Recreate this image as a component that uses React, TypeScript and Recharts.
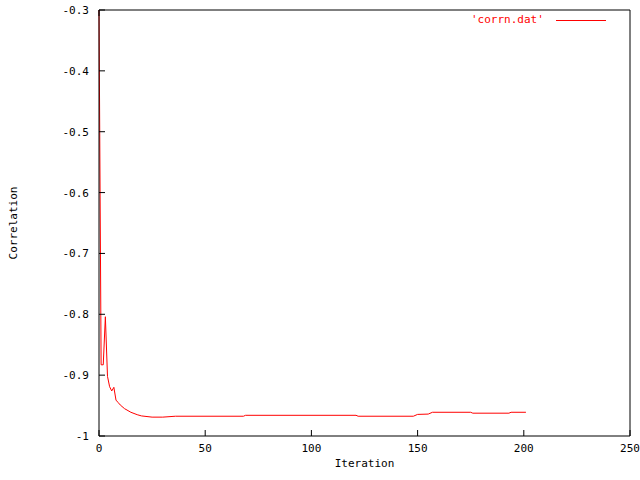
import { LineChart, Line, XAxis, YAxis } from "recharts";

const iterations = [0, 1, 2, 3, 4, 5, 6, 7, 8, 9, 10, 12, 15, 18, 20, 25, 30, 36, 68, 69, 121, 122, 148, 150, 155, 157, 175, 176, 193, 194, 201];
const correlation = [
  -0.3, -0.883, -0.883, -0.804, -0.902, -0.919, -0.926, -0.92, -0.941, -0.945, -0.949, -0.955, -0.961, -0.965,
  -0.967, -0.969, -0.969, -0.9675, -0.9675, -0.966, -0.966, -0.9675, -0.9675, -0.9645, -0.964, -0.961, -0.961,
  -0.9625, -0.9625, -0.961, -0.961,
];
const xTicks = [0, 50, 100, 150, 200, 250];
const yTicks = [-1, -0.9, -0.8, -0.7, -0.6, -0.5, -0.4, -0.3];
const seriesName = "'corrn.dat'";

const data = iterations.map((it, i) => ({ it, corr: correlation[i] }));

const FONT = "'DejaVu Sans Mono', monospace";
const TICK = 6;

function BottomTick({ x, y, payload }: any) {
  return (
    <g>
      <line x1={x} y1={y} x2={x} y2={y - TICK} stroke="#000" />
      <text x={x} y={y + 16} textAnchor="middle" fontFamily={FONT} fontSize={11} fill="#000">
        {payload.value}
      </text>
    </g>
  );
}

function TopTick({ x, y }: any) {
  return <line x1={x} y1={y} x2={x} y2={y + TICK} stroke="#000" />;
}

function LeftTick({ x, y, payload }: any) {
  return (
    <g>
      <line x1={x} y1={y} x2={x + TICK} y2={y} stroke="#000" />
      <text x={x - 10} y={y + 4} textAnchor="end" fontFamily={FONT} fontSize={11} fill="#000">
        {payload.value}
      </text>
    </g>
  );
}

function RightTick({ x, y }: any) {
  return <line x1={x} y1={y} x2={x - TICK} y2={y} stroke="#000" />;
}

function YLabel({ viewBox }: any) {
  const cx = viewBox.x + 13;
  const cy = viewBox.y + viewBox.height / 2;
  return (
    <text x={cx} y={cy} transform={`rotate(-90 ${cx} ${cy})`} textAnchor="middle" dominantBaseline="central" fontFamily={FONT} fontSize={11} fill="#000">
      Correlation
    </text>
  );
}

function XLabel({ viewBox }: any) {
  const cx = viewBox.x + viewBox.width / 2;
  return (
    <text x={cx} y={viewBox.y + 31} textAnchor="middle" fontFamily={FONT} fontSize={11} fill="#000">
      Iteration
    </text>
  );
}

export default function App() {
  return (
    <div style={{ position: "absolute", left: 0, top: 0, width: 640, height: 480, background: "#fff" }}>
      <LineChart width={640} height={480} data={data} margin={{ top: 9, right: 9, left: 0, bottom: 0 }}>
        <XAxis
          dataKey="it"
          type="number"
          domain={[0, 250]}
          ticks={xTicks}
          interval={0}
          height={44}
          tickSize={0}
          tickMargin={0}
          tickLine={false}
          tick={<BottomTick />}
          axisLine={{ stroke: "#000" }}
          label={<XLabel />}
        />
        <XAxis
          xAxisId="top"
          orientation="top"
          type="number"
          domain={[0, 250]}
          ticks={xTicks}
          interval={0}
          height={1}
          tickSize={0}
          tickMargin={0}
          tickLine={false}
          tick={<TopTick />}
          axisLine={{ stroke: "#000" }}
        />
        <YAxis
          type="number"
          domain={[-1, -0.3]}
          ticks={yTicks}
          interval={0}
          width={99}
          tickSize={0}
          tickMargin={0}
          tickLine={false}
          tick={<LeftTick />}
          axisLine={{ stroke: "#000" }}
          label={<YLabel />}
        />
        <YAxis
          yAxisId="right"
          orientation="right"
          type="number"
          domain={[-1, -0.3]}
          ticks={yTicks}
          interval={0}
          width={1}
          tickSize={0}
          tickMargin={0}
          tickLine={false}
          tick={<RightTick />}
          axisLine={{ stroke: "#000" }}
        />
        <Line type="linear" dataKey="corr" name={seriesName} stroke="#f00" strokeWidth={1} dot={false} isAnimationActive={false} />
      </LineChart>
      <div
        style={{
          position: "absolute",
          top: 13,
          left: 471,
          display: "flex",
          alignItems: "center",
          fontFamily: FONT,
          fontSize: 11,
          lineHeight: "14px",
          color: "#f00",
        }}
      >
        <span>{seriesName}</span>
        <span style={{ display: "inline-block", width: 50, height: 1, background: "#f00", marginLeft: 12 }} />
      </div>
    </div>
  );
}
